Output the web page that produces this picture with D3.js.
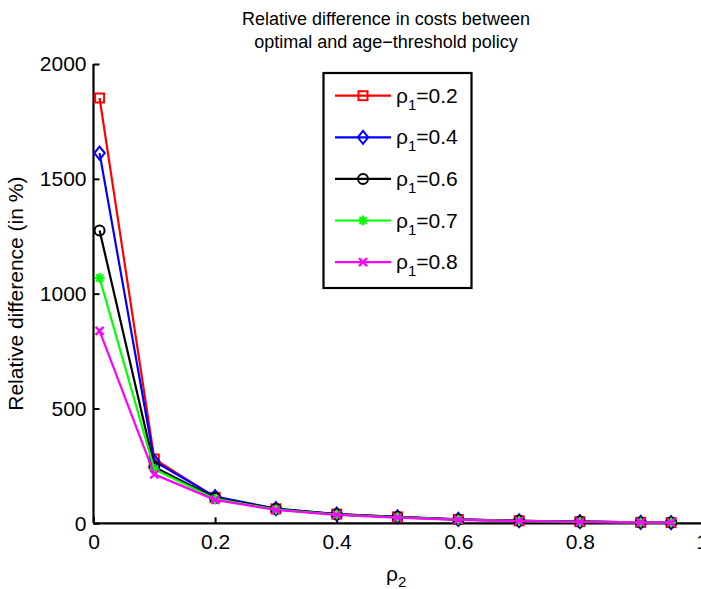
<!DOCTYPE html>
<html>
<head>
<meta charset="utf-8">
<script src="https://cdn.jsdelivr.net/npm/d3@7"></script>
<style>
  html, body { margin: 0; padding: 0; background: #fff; }
  svg { display: block; font-family: "Liberation Sans", Arial, Helvetica, sans-serif; }
</style>
</head>
<body>
<svg id="chart" width="701" height="589"></svg>
<script>
// rho_2 sample points
const rho2 = [0.01, 0.1, 0.2, 0.3, 0.4, 0.5, 0.6, 0.7, 0.8, 0.9, 0.95];

// relative cost difference (%) for each rho_1
const diff02 = [1852, 280, 113, 63, 40, 28, 17, 11, 7, 4, 3];
const diff04 = [1612, 270, 116, 64, 40, 28, 17, 11, 7, 4, 3];
const diff06 = [1275, 245, 110, 62, 39, 27, 16, 11, 7, 4, 3];
const diff07 = [1068, 235, 106, 60, 38, 26, 16, 10, 6, 4, 3];
const diff08 = [838, 213, 102, 58, 37, 25, 15, 10, 6, 4, 3];

const rho1Values = ["0.2", "0.4", "0.6", "0.7", "0.8"];
const seriesColors = ["#ff0000", "#0000ff", "#000000", "#00ff00", "#ff00ff"];
const seriesMarkers = ["square", "diamond", "circle", "asterisk", "cross"];

const xTicks = [0, 0.2, 0.4, 0.6, 0.8, 1];
const yTicks = [0, 500, 1000, 1500, 2000];

const series = [diff02, diff04, diff06, diff07, diff08].map((vals, i) => ({
  rho1: rho1Values[i], color: seriesColors[i], marker: seriesMarkers[i],
  points: rho2.map((x, j) => ({ x, y: vals[j] }))
}));

const svg = d3.select("#chart");
const x = d3.scaleLinear().domain([0, 1]).range([93.5, 701.5]);
const y = d3.scaleLinear().domain([0, 2000]).range([523.3, 64]);

const fontSize = 21;
const subSize = 15;

// title
const title = svg.append("text").attr("text-anchor", "middle").attr("font-size", 18).attr("fill", "#000");
title.append("tspan").attr("x", 386).attr("y", 25).text("Relative difference in costs between");
title.append("tspan").attr("x", 386).attr("y", 48).text("optimal and age\u2212threshold policy");

// axes: inward ticks, left and bottom only
const xAxis = svg.append("g").attr("transform", `translate(0,${y(0)})`)
  .call(d3.axisBottom(x).tickValues(xTicks).tickSize(-6).tickPadding(9)
    .tickFormat(d => d === 0 || d === 1 ? d3.format("d")(d) : d3.format(".1f")(d)));
const yAxis = svg.append("g").attr("transform", `translate(${x(0)},0)`)
  .call(d3.axisLeft(y).tickValues(yTicks).tickSize(-6).tickPadding(7).tickFormat(d3.format("d")));

[xAxis, yAxis].forEach(g => {
  g.select(".domain").attr("stroke", "#000").attr("stroke-width", 2.2);
  g.selectAll(".tick line").attr("stroke", "#000").attr("stroke-width", 2);
  g.selectAll(".tick text").attr("font-size", fontSize).attr("fill", "#000")
    .attr("font-family", "'Liberation Sans', Arial, sans-serif");
});
xAxis.select(".domain").attr("d", `M${x(0)},0H701`);
yAxis.select(".domain").attr("d", `M0,${y(2000)}V${y(0)}`);
xAxis.selectAll(".tick text").attr("dy", "0.8em");

// axis labels
svg.append("text").attr("text-anchor", "middle").attr("font-size", fontSize)
  .attr("transform", `translate(23,${(y(0) + y(2000)) / 2}) rotate(-90)`)
  .text("Relative difference (in %)");
const xl = svg.append("text").attr("x", 386).attr("y", 581).attr("font-size", fontSize);
xl.append("tspan").text("ρ");
xl.append("tspan").attr("font-size", subSize).attr("dy", 6).text("2");

// marker drawing
function drawMarker(g, type, cx, cy, color) {
  const s = 4.5;
  if (type === "square") {
    g.append("rect").attr("x", cx - s).attr("y", cy - s).attr("width", 2 * s).attr("height", 2 * s)
      .attr("fill", "none").attr("stroke", color).attr("stroke-width", 2);
  } else if (type === "diamond") {
    const d = 6.5;
    g.append("path").attr("d", `M${cx},${cy - d}L${cx + d * 0.8},${cy}L${cx},${cy + d}L${cx - d * 0.8},${cy}Z`)
      .attr("fill", "none").attr("stroke", color).attr("stroke-width", 2);
  } else if (type === "circle") {
    g.append("circle").attr("cx", cx).attr("cy", cy).attr("r", 5)
      .attr("fill", "none").attr("stroke", color).attr("stroke-width", 2);
  } else if (type === "asterisk") {
    const r = 5;
    const p = [];
    for (let k = 0; k < 4; k++) {
      const a = k * Math.PI / 4;
      p.push(`M${cx - r * Math.cos(a)},${cy - r * Math.sin(a)}L${cx + r * Math.cos(a)},${cy + r * Math.sin(a)}`);
    }
    g.append("path").attr("d", p.join("")).attr("stroke", color).attr("stroke-width", 2.2).attr("fill", "none");
  } else if (type === "cross") {
    const r = 4;
    g.append("path").attr("d", `M${cx - r},${cy - r}L${cx + r},${cy + r}M${cx - r},${cy + r}L${cx + r},${cy - r}`)
      .attr("stroke", color).attr("stroke-width", 2.2).attr("fill", "none");
  }
}

// series lines and markers
const line = d3.line().x(d => x(d.x)).y(d => y(d.y));
series.forEach(s => {
  const g = svg.append("g");
  g.append("path").datum(s.points).attr("d", line)
    .attr("fill", "none").attr("stroke", s.color).attr("stroke-width", 2.2);
  s.points.forEach(p => drawMarker(g, s.marker, x(p.x), y(p.y), s.color));
});

// legend
const legend = svg.append("g");
legend.append("rect").attr("x", 323.5).attr("y", 73).attr("width", 148).attr("height", 215)
  .attr("fill", "#fff").attr("stroke", "#000").attr("stroke-width", 2.2);
series.forEach((s, i) => {
  const ly = 95.7 + i * 41.6;
  legend.append("line").attr("x1", 335).attr("x2", 391).attr("y1", ly).attr("y2", ly)
    .attr("stroke", s.color).attr("stroke-width", 2.2);
  drawMarker(legend, s.marker, 363, ly, s.color);
  const t = legend.append("text").attr("x", 396).attr("y", ly + 7).attr("font-size", fontSize).attr("fill", "#000");
  t.append("tspan").text("ρ");
  t.append("tspan").attr("font-size", subSize).attr("dy", 7).text("1");
  t.append("tspan").attr("dy", -7).text("=" + s.rho1);
});
</script>
</body>
</html>
